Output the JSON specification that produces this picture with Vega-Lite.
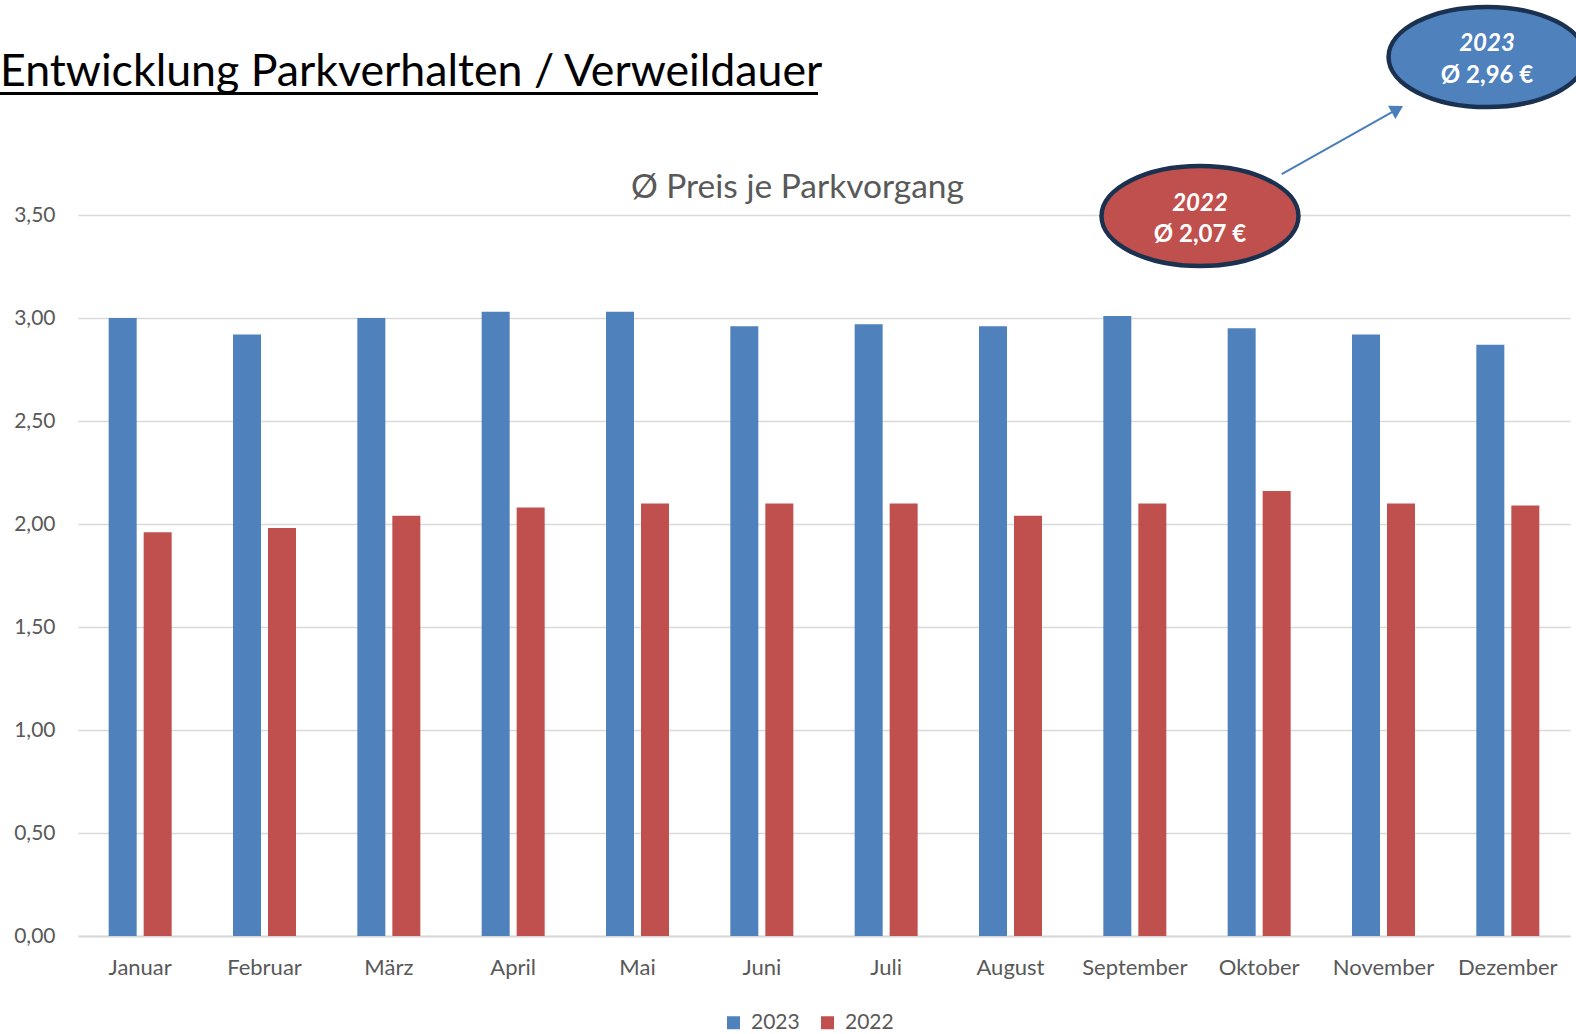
{
  "$schema": "https://vega.github.io/schema/vega-lite/v6.json",
  "width": 1492,
  "height": 721,
  "autosize": "none",
  "padding": {"left": 78, "top": 215, "right": 6, "bottom": 98},
  "background": "white",
  "config": {
    "view": {"stroke": null},
    "font": "Lato",
    "axis": {"labelFont": "Lato", "labelColor": "#595959"},
    "legend": {"labelFont": "Lato"}
  },
  "datasets": {
    "bars": [
      {"Monat": "Januar", "Jahr": "2023", "Preis": 3.00},
      {"Monat": "Januar", "Jahr": "2022", "Preis": 1.96},
      {"Monat": "Februar", "Jahr": "2023", "Preis": 2.92},
      {"Monat": "Februar", "Jahr": "2022", "Preis": 1.98},
      {"Monat": "März", "Jahr": "2023", "Preis": 3.00},
      {"Monat": "März", "Jahr": "2022", "Preis": 2.04},
      {"Monat": "April", "Jahr": "2023", "Preis": 3.03},
      {"Monat": "April", "Jahr": "2022", "Preis": 2.08},
      {"Monat": "Mai", "Jahr": "2023", "Preis": 3.03},
      {"Monat": "Mai", "Jahr": "2022", "Preis": 2.10},
      {"Monat": "Juni", "Jahr": "2023", "Preis": 2.96},
      {"Monat": "Juni", "Jahr": "2022", "Preis": 2.10},
      {"Monat": "Juli", "Jahr": "2023", "Preis": 2.97},
      {"Monat": "Juli", "Jahr": "2022", "Preis": 2.10},
      {"Monat": "August", "Jahr": "2023", "Preis": 2.96},
      {"Monat": "August", "Jahr": "2022", "Preis": 2.04},
      {"Monat": "September", "Jahr": "2023", "Preis": 3.01},
      {"Monat": "September", "Jahr": "2022", "Preis": 2.10},
      {"Monat": "Oktober", "Jahr": "2023", "Preis": 2.95},
      {"Monat": "Oktober", "Jahr": "2022", "Preis": 2.16},
      {"Monat": "November", "Jahr": "2023", "Preis": 2.92},
      {"Monat": "November", "Jahr": "2022", "Preis": 2.10},
      {"Monat": "Dezember", "Jahr": "2023", "Preis": 2.87},
      {"Monat": "Dezember", "Jahr": "2022", "Preis": 2.09}
    ],
    "ellipse2022": [{"px": 0.752, "py": 3.495}],
    "ellipse2023": [{"px": 0.9444, "py": 4.267}],
    "jahre": [
      {"px": 0.752, "py": 3.555, "label": "2022"},
      {"px": 0.9444, "py": 4.33, "label": "2023"}
    ],
    "schnitte": [
      {"px": 0.752, "py": 3.405, "label": "Ø 2,07 €"},
      {"px": 0.9444, "py": 4.175, "label": "Ø 2,96 €"}
    ],
    "pfeil": [{"px": 0.8068, "py": 3.699, "px2": 0.8843, "py2": 4.0136}],
    "pfeilspitze": [{"px": 0.8843, "py": 4.0136}],
    "ueberschrift": [{"px": -0.0523, "py": 4.126, "label": "Entwicklung Parkverhalten / Verweildauer"}],
    "unterstrich": [{"px": -0.0523, "px2": 0.496, "py": 4.09}],
    "diagrammtitel": [{"px": 0.4822, "py": 3.631, "label": "Ø Preis je Parkvorgang"}]
  },
  "layer": [
    {
      "data": {"name": "bars"},
      "mark": {"type": "bar"},
      "encoding": {
        "x": {
          "field": "Monat",
          "type": "nominal",
          "sort": ["Januar", "Februar", "März", "April", "Mai", "Juni", "Juli", "August", "September", "Oktober", "November", "Dezember"],
          "scale": {"paddingInner": 0.4933, "paddingOuter": 0.2467},
          "axis": {
            "title": null,
            "labelAngle": 0,
            "labelFontSize": 22,
            "labelColor": "#595959",
            "labelPadding": 21,
            "ticks": false,
            "domain": true,
            "domainColor": "#d9d9d9",
            "domainWidth": 2,
            "grid": false
          }
        },
        "xOffset": {
          "field": "Jahr",
          "type": "nominal",
          "sort": ["2023", "2022"],
          "scale": {"paddingInner": 0.2, "paddingOuter": 0}
        },
        "y": {
          "field": "Preis",
          "type": "quantitative",
          "scale": {"domain": [0, 3.5], "nice": false},
          "axis": {
            "title": null,
            "values": [0, 0.5, 1, 1.5, 2, 2.5, 3, 3.5],
            "labelExpr": "replace(format(datum.value, '.2f'), '.', ',')",
            "labelFontSize": 21,
            "labelColor": "#595959",
            "labelPadding": 23,
            "ticks": false,
            "domain": false,
            "grid": true,
            "gridColor": "#d9d9d9",
            "gridWidth": 1.5
          }
        },
        "color": {
          "field": "Jahr",
          "type": "nominal",
          "scale": {"domain": ["2023", "2022"], "range": ["#4f81bd", "#c0504d"]},
          "legend": {
            "title": null,
            "orient": "none",
            "legendX": 645,
            "legendY": 797,
            "direction": "horizontal",
            "symbolType": "square",
            "symbolSize": 169,
            "symbolStrokeWidth": 0,
            "labelFontSize": 21,
            "labelColor": "#595959",
            "labelOffset": 7,
            "columnPadding": 17,
            "padding": 0
          }
        }
      }
    },
    {
      "layer": [
        {
          "data": {"name": "diagrammtitel"},
          "mark": {"type": "text", "align": "center", "baseline": "middle", "fontSize": 33.5, "font": "Lato", "color": "#595959"},
          "encoding": {
            "x": {"field": "px", "type": "quantitative", "scale": {"domain": [0, 1]}, "axis": null},
            "y": {"field": "py", "type": "quantitative", "scale": {"domain": [0, 3.5], "nice": false}, "axis": null},
            "text": {"field": "label"}
          }
        },
        {
          "data": {"name": "ueberschrift"},
          "mark": {"type": "text", "align": "left", "baseline": "alphabetic", "fontSize": 44.7, "font": "Lato", "color": "black"},
          "encoding": {
            "x": {"field": "px", "type": "quantitative", "scale": {"domain": [0, 1]}, "axis": null},
            "y": {"field": "py", "type": "quantitative", "scale": {"domain": [0, 3.5], "nice": false}, "axis": null},
            "text": {"field": "label"}
          }
        },
        {
          "data": {"name": "unterstrich"},
          "mark": {"type": "rule", "color": "black", "strokeWidth": 3},
          "encoding": {
            "x": {"field": "px", "type": "quantitative", "scale": {"domain": [0, 1]}, "axis": null},
            "x2": {"field": "px2"},
            "y": {"field": "py", "type": "quantitative", "scale": {"domain": [0, 3.5], "nice": false}, "axis": null}
          }
        },
        {
          "data": {"name": "pfeil"},
          "mark": {"type": "rule", "color": "#4a7ebb", "strokeWidth": 2},
          "encoding": {
            "x": {"field": "px", "type": "quantitative", "scale": {"domain": [0, 1]}, "axis": null},
            "x2": {"field": "px2"},
            "y": {"field": "py", "type": "quantitative", "scale": {"domain": [0, 3.5], "nice": false}, "axis": null},
            "y2": {"field": "py2"}
          }
        },
        {
          "data": {"name": "pfeilspitze"},
          "mark": {"type": "point", "shape": "triangle-up", "filled": true, "size": 225, "angle": 60.6, "color": "#4a7ebb", "opacity": 1},
          "encoding": {
            "x": {"field": "px", "type": "quantitative", "scale": {"domain": [0, 1]}, "axis": null},
            "y": {"field": "py", "type": "quantitative", "scale": {"domain": [0, 3.5], "nice": false}, "axis": null}
          }
        },
        {
          "data": {"name": "ellipse2022"},
          "mark": {
            "type": "point",
            "shape": "M -1 0 C -1 -0.2806 -0.5523 -0.508 0 -0.508 C 0.5523 -0.508 1 -0.2806 1 0 C 1 0.2806 0.5523 0.508 0 0.508 C -0.5523 0.508 -1 0.2806 -1 0 Z",
            "size": 38809,
            "filled": true,
            "fill": "#c0504d",
            "stroke": "#1b3150",
            "strokeWidth": 4.5,
            "opacity": 1,
            "fillOpacity": 1,
            "strokeOpacity": 1
          },
          "encoding": {
            "x": {"field": "px", "type": "quantitative", "scale": {"domain": [0, 1]}, "axis": null},
            "y": {"field": "py", "type": "quantitative", "scale": {"domain": [0, 3.5], "nice": false}, "axis": null}
          }
        },
        {
          "data": {"name": "ellipse2023"},
          "mark": {
            "type": "point",
            "shape": "M -1 0 C -1 -0.2806 -0.5523 -0.508 0 -0.508 C 0.5523 -0.508 1 -0.2806 1 0 C 1 0.2806 0.5523 0.508 0 0.508 C -0.5523 0.508 -1 0.2806 -1 0 Z",
            "size": 38809,
            "filled": true,
            "fill": "#4f81bd",
            "stroke": "#1b3150",
            "strokeWidth": 4.5,
            "opacity": 1,
            "fillOpacity": 1,
            "strokeOpacity": 1
          },
          "encoding": {
            "x": {"field": "px", "type": "quantitative", "scale": {"domain": [0, 1]}, "axis": null},
            "y": {"field": "py", "type": "quantitative", "scale": {"domain": [0, 3.5], "nice": false}, "axis": null}
          }
        },
        {
          "data": {"name": "jahre"},
          "mark": {"type": "text", "align": "center", "baseline": "middle", "fontSize": 24, "fontWeight": "bold", "fontStyle": "italic", "font": "Lato", "color": "white"},
          "encoding": {
            "x": {"field": "px", "type": "quantitative", "scale": {"domain": [0, 1]}, "axis": null},
            "y": {"field": "py", "type": "quantitative", "scale": {"domain": [0, 3.5], "nice": false}, "axis": null},
            "text": {"field": "label"}
          }
        },
        {
          "data": {"name": "schnitte"},
          "mark": {"type": "text", "align": "center", "baseline": "middle", "fontSize": 24, "fontWeight": "bold", "font": "Lato", "color": "white"},
          "encoding": {
            "x": {"field": "px", "type": "quantitative", "scale": {"domain": [0, 1]}, "axis": null},
            "y": {"field": "py", "type": "quantitative", "scale": {"domain": [0, 3.5], "nice": false}, "axis": null},
            "text": {"field": "label"}
          }
        }
      ]
    }
  ],
  "resolve": {"scale": {"x": "independent", "y": "independent"}}
}
